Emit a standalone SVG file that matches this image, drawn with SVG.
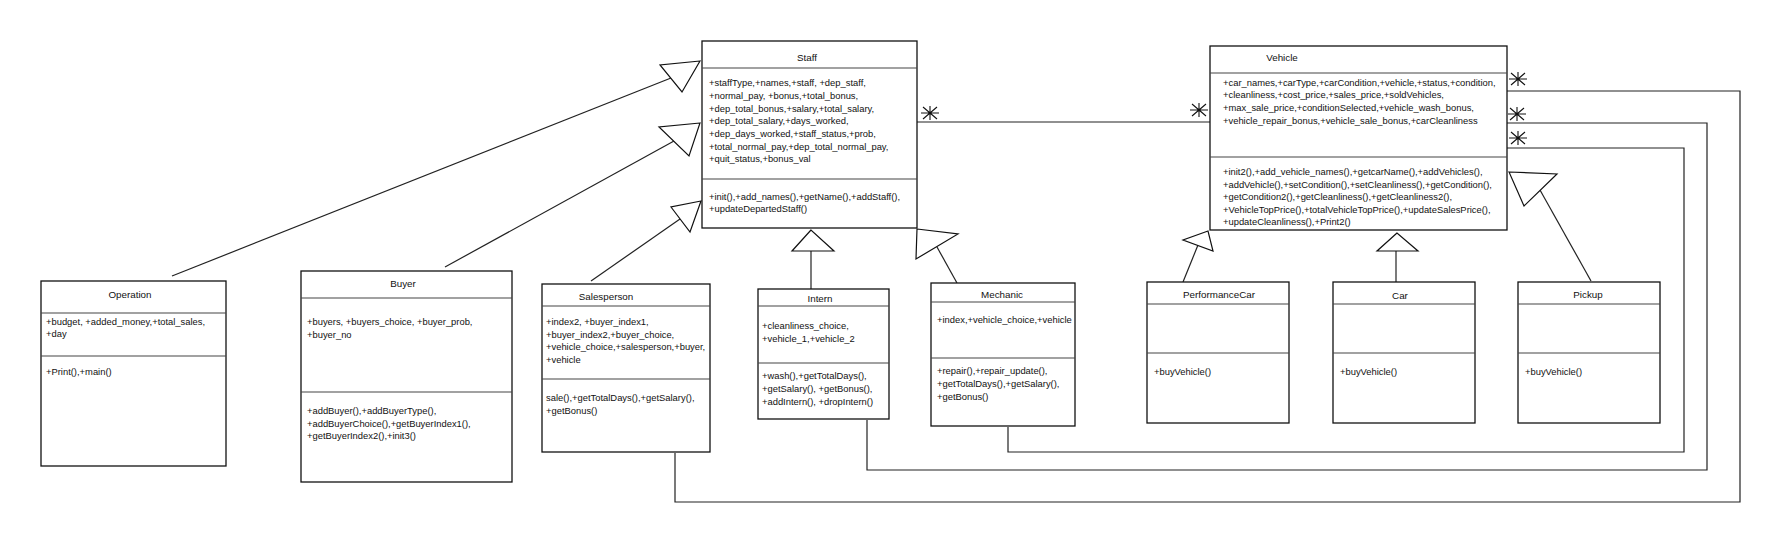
<svg xmlns="http://www.w3.org/2000/svg" xmlns:xlink="http://www.w3.org/1999/xlink" width="1786" height="551" viewBox="0 0 1786 551">
<style>
.box{fill:#fff;stroke:#111;stroke-width:1.3}
.div{stroke:#444;stroke-width:1.2;fill:none}
.t{font-family:"Liberation Sans",Arial,sans-serif;font-size:9.4px;fill:#111}
.title{font-family:"Liberation Sans",Arial,sans-serif;font-size:9.8px;fill:#111;text-anchor:middle}
.conn{fill:none;stroke:#222;stroke-width:1.2}
.tri{fill:#fff;stroke:#111;stroke-width:1.2}
.star{fill:none;stroke:#111;stroke-width:1.1}
</style>
<defs>
<path id="star" class="star" d="M-9,0H9M0,-7V7M-7,-6L7,6M-7,6L7,-6"/>
</defs>
<rect width="1786" height="551" fill="#fff"/>

<g id="connectors">
  <!-- generalizations to Staff -->
  <line class="conn" x1="172" y1="276" x2="671" y2="78"/>
  <polygon class="tri" points="700,61 660,65 682,92"/>
  <line class="conn" x1="445" y1="267" x2="674" y2="141"/>
  <polygon class="tri" points="700,123 659,127 689,156"/>
  <line class="conn" x1="591" y1="281" x2="680" y2="219"/>
  <polygon class="tri" points="701,201 671,207 690,232"/>
  <line class="conn" x1="811" y1="289" x2="811" y2="251"/>
  <polygon class="tri" points="811,230 792,251 834,251"/>
  <line class="conn" x1="957" y1="283" x2="937" y2="247"/>
  <polygon class="tri" points="917,229 958,234 916,259"/>
  <!-- generalizations to Vehicle -->
  <line class="conn" x1="1183" y1="282" x2="1198" y2="245"/>
  <polygon class="tri" points="1208,231 1183,240 1213,251"/>
  <line class="conn" x1="1396" y1="282" x2="1396" y2="251"/>
  <polygon class="tri" points="1397,233 1377,251 1418,251"/>
  <line class="conn" x1="1591" y1="281" x2="1540" y2="190"/>
  <polygon class="tri" points="1509,172 1557,174 1524,206"/>
  <!-- associations -->
  <line class="conn" x1="917" y1="122" x2="1210" y2="122"/>
  <use xlink:href="#star" x="930" y="113"/>
  <use xlink:href="#star" x="1199" y="110"/>
  <polyline class="conn" points="675,453 675,502 1740,502 1740,91 1507,91"/>
  <use xlink:href="#star" x="1518" y="79"/>
  <polyline class="conn" points="867,420 867,470 1707,470 1707,123 1507,123"/>
  <use xlink:href="#star" x="1517" y="114"/>
  <polyline class="conn" points="1008,427 1008,452 1684,452 1684,148 1507,148"/>
  <use xlink:href="#star" x="1518" y="138"/>
</g>

<g id="Staff">
  <rect class="box" x="702" y="41" width="215" height="187"/>
  <line class="div" x1="702" y1="68" x2="917" y2="68"/>
  <line class="div" x1="702" y1="179" x2="917" y2="179"/>
  <text class="title" x="807" y="60.5">Staff</text>
  <text class="t" x="709" y="85.5">+staffType,+names,+staff, +dep_staff,</text>
  <text class="t" x="709" y="98.5">+normal_pay, +bonus,+total_bonus,</text>
  <text class="t" x="709" y="111.5">+dep_total_bonus,+salary,+total_salary,</text>
  <text class="t" x="709" y="123.5">+dep_total_salary,+days_worked,</text>
  <text class="t" x="709" y="136.5">+dep_days_worked,+staff_status,+prob,</text>
  <text class="t" x="709" y="149.5">+total_normal_pay,+dep_total_normal_pay,</text>
  <text class="t" x="709" y="161.5">+quit_status,+bonus_val</text>
  <text class="t" x="709" y="199.5">+init(),+add_names(),+getName(),+addStaff(),</text>
  <text class="t" x="709" y="212">+updateDepartedStaff()</text>
</g>

<g id="Vehicle">
  <rect class="box" x="1210" y="46" width="297" height="184"/>
  <line class="div" x1="1210" y1="73" x2="1507" y2="73"/>
  <line class="div" x1="1210" y1="157" x2="1507" y2="157"/>
  <text class="title" x="1282" y="60.5">Vehicle</text>
  <text class="t" x="1223" y="85.5">+car_names,+carType,+carCondition,+vehicle,+status,+condition,</text>
  <text class="t" x="1223" y="98">+cleanliness,+cost_price,+sales_price,+soldVehicles,</text>
  <text class="t" x="1223" y="110.5">+max_sale_price,+conditionSelected,+vehicle_wash_bonus,</text>
  <text class="t" x="1223" y="123.5">+vehicle_repair_bonus,+vehicle_sale_bonus,+carCleanliness</text>
  <text class="t" x="1223" y="174.5">+init2(),+add_vehicle_names(),+getcarName(),+addVehicles(),</text>
  <text class="t" x="1223" y="187.5">+addVehicle(),+setCondition(),+setCleanliness(),+getCondition(),</text>
  <text class="t" x="1223" y="199.5">+getCondition2(),+getCleanliness(),+getCleanliness2(),</text>
  <text class="t" x="1223" y="212.5">+VehicleTopPrice(),+totalVehicleTopPrice(),+updateSalesPrice(),</text>
  <text class="t" x="1223" y="225">+updateCleanliness(),+Print2()</text>
</g>

<g id="Operation">
  <rect class="box" x="41" y="281" width="185" height="185"/>
  <line class="div" x1="41" y1="313" x2="226" y2="313"/>
  <line class="div" x1="41" y1="356" x2="226" y2="356"/>
  <text class="title" x="130" y="297.5">Operation</text>
  <text class="t" x="46" y="324.5">+budget, +added_money,+total_sales,</text>
  <text class="t" x="46" y="336.5">+day</text>
  <text class="t" x="46" y="374.5">+Print(),+main()</text>
</g>

<g id="Buyer">
  <rect class="box" x="301" y="271" width="211" height="211"/>
  <line class="div" x1="301" y1="298" x2="512" y2="298"/>
  <line class="div" x1="301" y1="392" x2="512" y2="392"/>
  <text class="title" x="403" y="286.5">Buyer</text>
  <text class="t" x="307" y="324.5">+buyers, +buyers_choice, +buyer_prob,</text>
  <text class="t" x="307" y="337.5">+buyer_no</text>
  <text class="t" x="307" y="413.5">+addBuyer(),+addBuyerType(),</text>
  <text class="t" x="307" y="426.5">+addBuyerChoice(),+getBuyerIndex1(),</text>
  <text class="t" x="307" y="438.5">+getBuyerIndex2(),+init3()</text>
</g>

<g id="Salesperson">
  <rect class="box" x="542" y="284" width="168" height="168"/>
  <line class="div" x1="542" y1="306" x2="710" y2="306"/>
  <line class="div" x1="542" y1="379" x2="710" y2="379"/>
  <text class="title" x="606" y="299.5">Salesperson</text>
  <text class="t" x="546" y="324.5">+index2, +buyer_index1,</text>
  <text class="t" x="546" y="337.5">+buyer_index2,+buyer_choice,</text>
  <text class="t" x="546" y="349.5">+vehicle_choice,+salesperson,+buyer,</text>
  <text class="t" x="546" y="362.5">+vehicle</text>
  <text class="t" x="546" y="400.5">sale(),+getTotalDays(),+getSalary(),</text>
  <text class="t" x="546" y="413.5">+getBonus()</text>
</g>

<g id="Intern">
  <rect class="box" x="758" y="289" width="131" height="130"/>
  <line class="div" x1="758" y1="306" x2="889" y2="306"/>
  <line class="div" x1="758" y1="363" x2="889" y2="363"/>
  <text class="title" x="820" y="302">Intern</text>
  <text class="t" x="762" y="328.5">+cleanliness_choice,</text>
  <text class="t" x="762" y="341.5">+vehicle_1,+vehicle_2</text>
  <text class="t" x="762" y="378.5">+wash(),+getTotalDays(),</text>
  <text class="t" x="762" y="391.5">+getSalary(), +getBonus(),</text>
  <text class="t" x="762" y="404.5">+addIntern(), +dropIntern()</text>
</g>

<g id="Mechanic">
  <rect class="box" x="931" y="283" width="144" height="143"/>
  <line class="div" x1="931" y1="302" x2="1075" y2="302"/>
  <line class="div" x1="931" y1="358" x2="1075" y2="358"/>
  <text class="title" x="1002" y="297.5">Mechanic</text>
  <text class="t" x="937" y="322.5">+index,+vehicle_choice,+vehicle</text>
  <text class="t" x="937" y="373.5">+repair(),+repair_update(),</text>
  <text class="t" x="937" y="386.5">+getTotalDays(),+getSalary(),</text>
  <text class="t" x="937" y="399.5">+getBonus()</text>
</g>

<g id="PerformanceCar">
  <rect class="box" x="1147" y="282" width="142" height="141"/>
  <line class="div" x1="1147" y1="304" x2="1289" y2="304"/>
  <line class="div" x1="1147" y1="353" x2="1289" y2="353"/>
  <text class="title" x="1219" y="297.5">PerformanceCar</text>
  <text class="t" x="1154" y="374.5">+buyVehicle()</text>
</g>

<g id="Car">
  <rect class="box" x="1333" y="282" width="142" height="141"/>
  <line class="div" x1="1333" y1="304" x2="1475" y2="304"/>
  <line class="div" x1="1333" y1="353" x2="1475" y2="353"/>
  <text class="title" x="1400" y="298.5">Car</text>
  <text class="t" x="1340" y="374.5">+buyVehicle()</text>
</g>

<g id="Pickup">
  <rect class="box" x="1518" y="282" width="142" height="141"/>
  <line class="div" x1="1518" y1="304" x2="1660" y2="304"/>
  <line class="div" x1="1518" y1="353" x2="1660" y2="353"/>
  <text class="title" x="1588" y="298">Pickup</text>
  <text class="t" x="1525" y="374.5">+buyVehicle()</text>
</g>
</svg>
